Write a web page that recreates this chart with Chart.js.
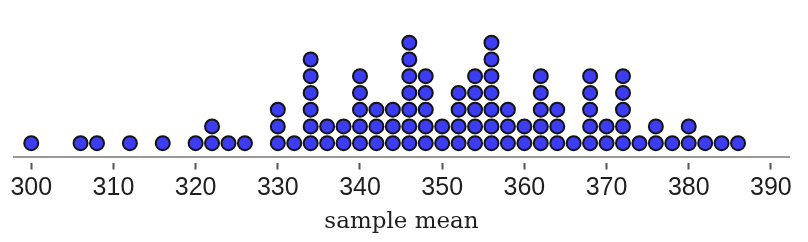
<!DOCTYPE html>
<html>
<head>
<meta charset="utf-8">
<script src="https://cdn.jsdelivr.net/npm/chart.js@4"></script>
<style>
html,body{margin:0;padding:0;background:#fff;}
#wrap{width:808px;height:242px;position:relative;}
</style>
</head>
<body>
<div id="wrap"><canvas id="c"></canvas></div>
<script>
// sample means (x positions of the stacks) and number of dots in each stack
const sampleMeans = [300,306,308,312,316,320,322,324,326,330,332,334,336,338,340,342,344,346,348,350,352,354,356,358,360,362,364,366,368,370,372,374,376,378,380,382,384,386];
const dotCounts   = [1,1,1,1,1,1,2,1,1,3,1,6,2,2,5,3,3,7,5,2,4,5,7,3,2,5,3,1,5,2,5,1,2,1,2,1,1,1];
const tickValues  = [300,310,320,330,340,350,360,370,380,390];
const axisTitle   = 'sample mean';

const points = [];
sampleMeans.forEach((m, i) => {
  for (let k = 1; k <= dotCounts[i]; k++) points.push({x: m, y: k});
});

new Chart(document.getElementById('c'), {
  type: 'scatter',
  data: {
    datasets: [{
      data: points,
      pointRadius: 7,
      pointHoverRadius: 7,
      pointBorderWidth: 2,
      pointBackgroundColor: '#3c3cf2',
      pointBorderColor: '#141414'
    }]
  },
  options: {
    responsive: true,
    maintainAspectRatio: false,
    animation: false,
    events: [],
    layout: {padding: {left: 14, right: 19, top: 26, bottom: 6}},
    plugins: {legend: {display: false}, tooltip: {enabled: false}},
    scales: {
      x: {
        type: 'linear',
        min: 297.9,
        max: 392.2,
        afterBuildTicks: (s) => { s.ticks = tickValues.map(v => ({value: v})); },
        ticks: {
          includeBounds: false,
          autoSkip: false,
          maxRotation: 0,
          padding: 4,
          color: '#1e1e1e',
          font: {family: '"Liberation Sans", Arial, sans-serif', size: 25}
        },
        grid: {
          drawOnChartArea: false,
          drawTicks: true,
          tickLength: 12,
          tickWidth: 2,
          tickColor: '#555',
          tickBorderDash: [0, 5, 7, 40]
        },
        border: {display: true, color: '#999', width: 2},
        title: {
          display: true,
          text: axisTitle,
          color: '#1e1e1e',
          padding: {top: 1, bottom: 0},
          font: {family: '"DejaVu Serif", serif', size: 23}
        }
      },
      y: {
        display: false,
        min: 0.15,
        max: 8
      }
    }
  }
});
</script>
</body>
</html>
